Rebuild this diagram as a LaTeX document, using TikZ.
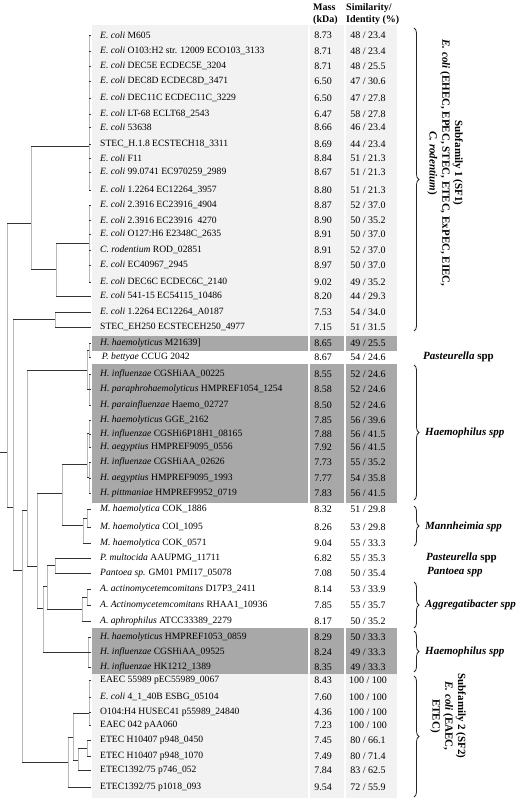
\documentclass[tikz,border=0pt]{standalone}
\usepackage{fontspec}
\setmainfont{Liberation Serif}
\usetikzlibrary{decorations.pathreplacing}
\definecolor{lightband}{RGB}{242,242,242}
\definecolor{darkband}{RGB}{168,168,168}
\newcommand{\gen}[1]{\textit{#1}}

\begin{document}
\begin{tikzpicture}[x=1pt,y=-1pt,
    hbr/.style={draw=black!80,line width=0.9pt},
    vbr/.style={draw=black!28,line width=0.9pt},
    lab/.style={anchor=west,inner sep=0pt,font=\fontsize{9.6}{12}\selectfont},
    num/.style={inner sep=0pt,font=\fontsize{10}{12}\selectfont},
    hdr/.style={anchor=west,inner sep=0pt,align=left,font=\fontsize{10}{12}\selectfont\bfseries},
    grp/.style={anchor=west,inner sep=0pt,font=\fontsize{11}{13}\selectfont\bfseries},
    brc/.style={draw=black!85,decorate,decoration={brace,amplitude=5pt},line width=0.8pt}]

    \useasboundingbox (0,0) rectangle (524,800);

    % 背景色块
    \fill[lightband] (92,25) rectangle (397,336);
    \fill[darkband] (92,336) rectangle (397,351);
    \fill[darkband] (92,364) rectangle (397,503);
    \fill[darkband] (92,628) rectangle (397,674);
    \fill[lightband] (92,674) rectangle (397,798);
    \draw[white,line width=2pt] (309,25) -- (309,798);
    \draw[white,line width=2pt] (344.5,25) -- (344.5,798);

    % 表头
    \node[hdr] (hmass) at (313,14) {Mass\\(kDa)};
    \node[hdr] (hsim) at (346,14) {Similarity/\\Identity (\%)};

    % 各行: 名称, 分子量, 相似度
    \foreach \y/\txt/\m/\s [count=\i] in {
        35/{\gen{E. coli} M605}/8.73/{48 / 23.4},
        51/{\gen{E. coli} O103:H2 str. 12009 ECO103\_3133}/8.71/{48 / 23.4},
        66/{\gen{E. coli} DEC5E ECDEC5E\_3204}/8.71/{48 / 25.5},
        81/{\gen{E. coli} DEC8D ECDEC8D\_3471}/6.50/{47 / 30.6},
        98/{\gen{E. coli} DEC11C ECDEC11C\_3229}/6.50/{47 / 27.8},
        114/{\gen{E. coli} LT-68 ECLT68\_2543}/6.47/{58 / 27.8},
        127/{\gen{E. coli} 53638}/8.66/{46 / 23.4},
        144/{STEC\_H.1.8 ECSTECH18\_3311}/8.69/{44 / 23.4},
        158/{\gen{E. coli} F11}/8.84/{51 / 21.3},
        172/{\gen{E. coli} 99.0741 EC970259\_2989}/8.67/{51 / 21.3},
        190/{\gen{E. coli} 1.2264 EC12264\_3957}/8.80/{51 / 21.3},
        205/{\gen{E. coli} 2.3916 EC23916\_4904}/8.87/{52 / 37.0},
        220/{\gen{E. coli} 2.3916 EC23916~~4270}/8.90/{50 / 35.2},
        234/{\gen{E. coli} O127:H6 E2348C\_2635}/8.91/{50 / 37.0},
        250/{\gen{C. rodentium} ROD\_02851}/8.91/{52 / 37.0},
        265/{\gen{E. coli} EC40967\_2945}/8.97/{50 / 37.0},
        282/{\gen{E. coli} DEC6C ECDEC6C\_2140}/9.02/{49 / 35.2},
        296/{\gen{E. coli} 541-15 EC54115\_10486}/8.20/{44 / 29.3},
        312/{\gen{E. coli} 1.2264 EC12264\_A0187}/7.53/{54 / 34.0},
        327/{STEC\_EH250 ECSTECEH250\_4977}/7.15/{51 / 31.5},
        343/{\gen{H. haemolyticus} M21639]}/8.65/{49 / 25.5},
        357/{\,\gen{P. bettyae} CCUG 2042}/8.67/{54 / 24.6},
        374/{\gen{H. influenzae} CGSHiAA\_00225}/8.55/{52 / 24.6},
        389/{\gen{H. paraphrohaemolyticus} HMPREF1054\_1254}/8.58/{52 / 24.6},
        405/{\gen{H. parainfluenzae} Haemo\_02727}/8.50/{52 / 24.6},
        420/{\gen{H. haemolyticus} GGE\_2162}/7.85/{56 / 39.6},
        434/{\gen{H. influenzae} CGSHi6P18H1\_08165}/7.88/{56 / 41.5},
        447/{\gen{H. aegyptius} HMPREF9095\_0556}/7.92/{56 / 41.5},
        462/{\gen{H. influenzae} CGSHiAA\_02626}/7.73/{55 / 35.2},
        478/{\gen{H. aegyptius} HMPREF9095\_1993}/7.77/{54 / 35.8},
        493/{\gen{H. pittmaniae} HMPREF9952\_0719}/7.83/{56 / 41.5},
        509/{\gen{M. haemolytica} COK\_1886}/8.32/{51 / 29.8},
        527/{\gen{M. haemolytica} COI\_1095}/8.26/{53 / 29.8},
        543/{\gen{M. haemolytica} COK\_0571}/9.04/{55 / 33.3},
        558/{\gen{P. multocida} AAUPMG\_11711}/6.82/{55 / 35.3},
        573/{\gen{Pantoea sp.} GM01 PMI17\_05078}/7.08/{50 / 35.4},
        589/{\gen{A. actinomycetemcomitans} D17P3\_2411}/8.14/{53 / 33.9},
        605/{\gen{A. Actinomycetemcomitans} RHAA1\_10936}/7.85/{55 / 35.7},
        621/{\gen{A. aphrophilus} ATCC33389\_2279}/8.17/{50 / 35.2},
        637/{\gen{H. haemolyticus} HMPREF1053\_0859}/8.29/{50 / 33.3},
        652/{\gen{H. influenzae} CGSHiAA\_09525}/8.24/{49 / 33.3},
        667/{\gen{H. influenzae} HK1212\_1389}/8.35/{49 / 33.3},
        680/{EAEC 55989 pEC55989\_0067}/8.43/{100 / 100},
        697/{\gen{E. coli} 4\_1\_40B ESBG\_05104}/7.60/{100 / 100},
        712/{O104:H4 HUSEC41 p55989\_24840}/4.36/{100 / 100},
        725/{EAEC 042 pAA060}/7.23/{100 / 100},
        740/{ETEC H10407 p948\_0450}/7.45/{80 / 66.1},
        756/{ETEC H10407 p948\_1070}/7.49/{80 / 71.4},
        770/{ETEC1392/75 p746\_052}/7.84/{83 / 62.5},
        787/{ETEC1392/75 p1018\_093}/9.54/{72 / 55.9}}
    {
        \coordinate (t\i) at (91,\y);
        \node[lab] (l\i) at (100,\y) {\txt};
        \node[num] (m\i) at (323,\y) {\m};
        \node[num] (s\i) at (368,\y) {\s};
    }

    % 树的内部节点
    \coordinate (n0) at (0,452);
    \coordinate (nR) at (7,452);
    \coordinate (nD) at (31,223);
    \coordinate (nA) at (89,146);
    \coordinate (nC) at (56,269.5);
    \coordinate (nB) at (89,243);
    \coordinate (nE) at (13,507);
    \coordinate (nP1) at (55,319.5);
    \coordinate (nF) at (22,570);
    \coordinate (nG) at (27,510);
    \coordinate (nH1) at (87,370);
    \coordinate (nH1a) at (89,350);
    \coordinate (nH1b) at (89,389.5);
    \coordinate (nN5) at (37,566);
    \coordinate (nN6) at (62,493);
    \coordinate (nH2) at (87,464);
    \coordinate (nH2a) at (89,433.5);
    \coordinate (nH2b) at (89,477.5);
    \coordinate (nM) at (83,525);
    \coordinate (nMa) at (87,518);
    \coordinate (nN7) at (43,608);
    \coordinate (nN8) at (47,586);
    \coordinate (nPP) at (55,565.5);
    \coordinate (nAg) at (82,609);
    \coordinate (nAga) at (87,597);
    \coordinate (nH3) at (88,652);
    \coordinate (nS0) at (68,762);
    \coordinate (nS1) at (73,737);
    \coordinate (nEA) at (89,713);
    \coordinate (nS2) at (78,760);
    \coordinate (nEt) at (87,748);

    % 竖线
    \foreach \p/\a/\b in {nR/nD/nE, nD/nA/nC, nA/t1/t11, nC/nB/t18, nB/t12/t17,
        nE/nP1/nF, nP1/t19/t20, nF/nG/nS0, nG/nH1/nN5, nH1/nH1a/nH1b,
        nH1a/t21/t22, nH1b/t23/t25, nN5/nN6/nN7, nN6/nH2/nM, nH2/nH2a/nH2b,
        nH2a/t26/t28, nH2b/t29/t31, nM/nMa/t34, nMa/t32/t33, nN7/nN8/nH3,
        nN8/nPP/nAg, nPP/t35/t36, nAg/nAga/t39, nAga/t37/t38, nH3/t40/t42,
        nS0/nS1/t50, nS1/nEA/nS2, nEA/t43/t46, nS2/nEt/t49, nEt/t47/t48}
        \draw[vbr] (\p |- \a) -- (\p |- \b);

    % 横线
    \draw[hbr] (n0) -- (nR);
    \foreach \p/\c in {nR/nD, nR/nE, nD/nA, nD/nC, nC/nB, nC/t18, nE/nP1, nE/nF,
        nP1/t19, nP1/t20, nF/nG, nF/nS0, nG/nH1, nG/nN5, nH1/nH1a, nH1/nH1b,
        nN5/nN6, nN5/nN7, nN6/nH2, nN6/nM, nH2/nH2a, nH2/nH2b, nM/nMa, nM/t34,
        nN7/nN8, nN7/nH3, nN8/nPP, nN8/nAg, nPP/t35, nPP/t36, nAg/nAga, nAg/t39,
        nAga/t37, nAga/t38, nS0/nS1, nS0/t50, nS1/nEA, nS1/nS2, nS2/nEt, nS2/t49,
        nEt/t47, nEt/t48}
        \draw[hbr] (\p |- \c) -- (\c);
    % 末端短线
    \foreach \i in {1,...,11} \draw[hbr] (nA |- t\i) -- (t\i);
    \foreach \i in {12,...,17} \draw[hbr] (nB |- t\i) -- (t\i);
    \foreach \i in {21,22} \draw[hbr] (nH1a |- t\i) -- (t\i);
    \foreach \i in {23,24,25} \draw[hbr] (nH1b |- t\i) -- (t\i);
    \foreach \i in {26,27,28} \draw[hbr] (nH2a |- t\i) -- (t\i);
    \foreach \i in {29,30,31} \draw[hbr] (nH2b |- t\i) -- (t\i);
    \foreach \i in {32,33} \draw[hbr] (nMa |- t\i) -- (t\i);
    \foreach \i in {40,41,42} \draw[hbr] (nH3 |- t\i) -- (t\i);
    \foreach \i in {43,...,46} \draw[hbr] (nEA |- t\i) -- (t\i);

    % 花括号和分组名
    \draw[brc] (414,28) -- (414,331);
    \node[rotate=-90,align=center,inner sep=0pt,font=\fontsize{11}{12.8}\selectfont\bfseries] (sf1)
        at (445,163) {Subfamily 1 (SF1)\\\gen{E. coli} (EHEC, EPEC, STEC, ETEC, ExPEC, EIEC,\\\gen{C. rodentium})};
    \node[grp] (past1) at (423,357) {\gen{Pasteurella} spp};
    \draw[brc] (414,365) -- (414,500);
    \node[grp] (haem1) at (425,433) {\gen{Haemophilus spp}};
    \draw[brc] (414,506) -- (414,546);
    \node[grp] (mann) at (425,527) {\gen{Mannheimia spp}};
    \node[grp] (past2) at (426,558) {\gen{Pasteurella} spp};
    \node[grp] (pant) at (427,572) {\gen{Pantoea spp}};
    \draw[brc] (414,582) -- (414,628);
    \node[grp] (aggr) at (425,605) {\gen{Aggregatibacter spp}};
    \draw[brc] (414,631) -- (414,672);
    \node[grp] (haem2) at (425,652) {\gen{Haemophilus spp}};
    \draw[brc] (414,676) -- (414,797);
    \node[rotate=-90,align=center,inner sep=0pt,font=\fontsize{11}{12.8}\selectfont\bfseries] (sf2)
        at (448,716) {Subfamily 2 (SF2)\\\gen{E. coli} (EAEC,\\ETEC)};

\end{tikzpicture}
\end{document}
